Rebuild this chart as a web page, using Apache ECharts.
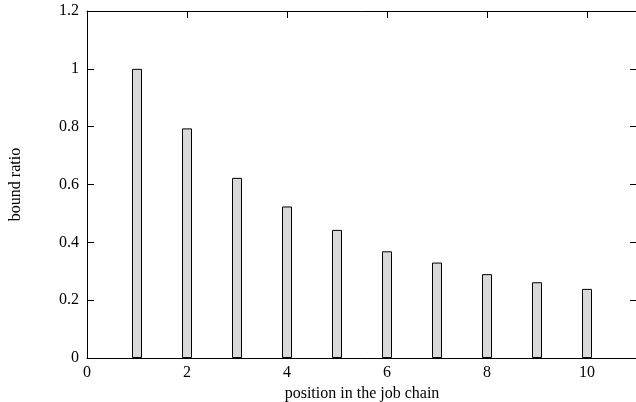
<!DOCTYPE html>
<html>
<head>
<meta charset="utf-8">
<script src="https://cdn.jsdelivr.net/npm/echarts@6/dist/echarts.min.js"></script>
<style>
  html, body { margin: 0; padding: 0; background: #fff; }
  #chart { width: 636px; height: 402px; }
</style>
</head>
<body>
<div id="chart"></div>
<script>
// Position of each job in the chain and its bound ratio
const positions = [1, 2, 3, 4, 5, 6, 7, 8, 9, 10];
const boundRatio = [1.0, 0.794, 0.623, 0.524, 0.443, 0.369, 0.33, 0.29, 0.262, 0.239];
const xTicks = [0, 2, 4, 6, 8, 10];
const yTicks = [0, 0.2, 0.4, 0.6, 0.8, 1, 1.2];

const font = 'Liberation Serif';
const fontSize = 16;
const tickLen = 7;

const chart = echarts.init(document.getElementById('chart'), null, { renderer: 'canvas' });

const baseX = {
  type: 'value', min: 0, max: 11, interval: 2,
  splitLine: { show: false },
  axisTick: { show: true, inside: true, length: tickLen, lineStyle: { color: '#000' } }
};
const baseY = {
  type: 'value', min: 0, max: 1.2, interval: 0.2,
  splitLine: { show: false },
  axisTick: { show: true, inside: true, length: tickLen, lineStyle: { color: '#000' } }
};

chart.setOption({
  animation: false,
  backgroundColor: '#fff',
  grid: { left: 87, top: 11, width: 550, height: 347, containLabel: false, outerBoundsMode: 'none' },
  xAxis: [
    Object.assign({}, baseX, {
      position: 'bottom',
      axisLine: { show: true, onZero: false, lineStyle: { color: '#000', width: 1 } },
      axisLabel: {
        show: true, margin: 7, color: '#000', fontFamily: font, fontSize: fontSize,
        formatter: v => (xTicks.includes(v) ? String(v) : '')
      },
      name: 'position in the job chain',
      nameLocation: 'middle', nameGap: 22,
      nameTextStyle: { color: '#000', fontFamily: font, fontSize: fontSize }
    }),
    Object.assign({}, baseX, {
      position: 'top',
      axisLine: { show: true, onZero: false, lineStyle: { color: '#000', width: 1 } },
      axisLabel: { show: false },
      axisTick: { show: true, inside: true, length: tickLen, lineStyle: { color: '#000' },
                  customValues: [2, 4, 6, 8, 10] }
    })
  ],
  yAxis: [
    Object.assign({}, baseY, {
      position: 'left',
      axisLine: { show: true, onZero: false, lineStyle: { color: '#000', width: 1 } },
      axisLabel: {
        show: true, margin: 8, color: '#000', fontFamily: font, fontSize: fontSize,
        formatter: v => {
          const t = yTicks.find(k => Math.abs(k - v) < 1e-9);
          return t === undefined ? '' : String(t);
        }
      },
      name: 'bound ratio',
      nameLocation: 'middle', nameGap: 63, nameRotate: 90,
      nameTextStyle: { color: '#000', fontFamily: font, fontSize: fontSize }
    }),
    Object.assign({}, baseY, {
      position: 'right',
      axisLine: { show: true, onZero: false, lineStyle: { color: 'rgba(0,0,0,0)', width: 1 } },
      axisLabel: { show: false },
      axisTick: { show: true, inside: true, length: tickLen, lineStyle: { color: '#000' },
                  customValues: [0.2, 0.4, 0.6, 0.8, 1] }
    })
  ],
  series: [{
    type: 'bar',
    xAxisIndex: 0, yAxisIndex: 0,
    barWidth: 10,
    data: positions.map((p, i) => [p, boundRatio[i]]),
    itemStyle: { color: '#d9d9d9', borderColor: '#000', borderWidth: 1 }
  }]
});
</script>
</body>
</html>
